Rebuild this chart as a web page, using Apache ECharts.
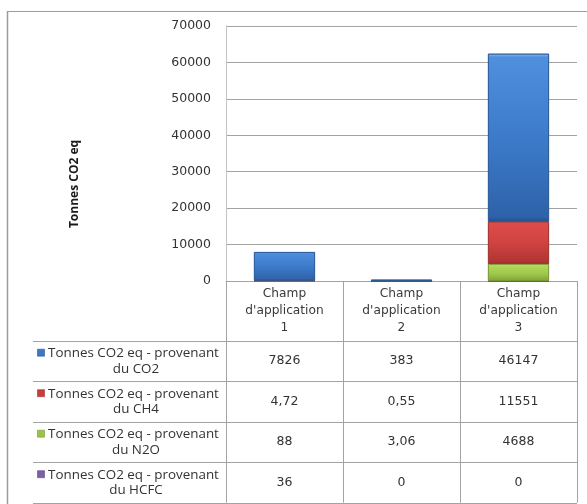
<!DOCTYPE html>
<html>
<head>
<meta charset="utf-8">
<style>
  html, body { margin: 0; padding: 0; background: #fff; }
  #chart { width: 587px; height: 504px; }
</style>
<script src="https://cdn.jsdelivr.net/npm/echarts@6/dist/echarts.min.js"></script>
</head>
<body>
<div id="chart"></div>
<script>
// Emissions par champ d'application (tonnes CO2 eq)
const categories = ["Champ\nd'application\n1", "Champ\nd'application\n2", "Champ\nd'application\n3"];
const seriesNames = [
  "Tonnes CO2 eq - provenant\ndu CO2",
  "Tonnes CO2 eq - provenant\ndu CH4",
  "Tonnes CO2 eq - provenant\ndu N2O",
  "Tonnes CO2 eq - provenant\ndu HCFC"
];
const co2 = [7826, 383, 46147];
const ch4 = [4.72, 0.55, 11551];
const n2o = [88, 3.06, 4688];
const hcfc = [36, 0, 0];
const yTicks = [0, 10000, 20000, 30000, 40000, 50000, 60000, 70000];
const axisTitle = "Tonnes CO2 eq";

const tableRows = [co2, ch4, n2o, hcfc];

function grad(stops) {
  return new echarts.graphic.LinearGradient(0, 0, 0, 1,
    stops.map(s => ({ offset: s[0], color: s[1] })));
}
const palette = [
  { fill: grad([[0, '#8dbcf0'], [0.02, '#4f8fdd'], [0.5, '#3d7bca'], [0.97, '#2e62a9'], [1, '#234f8a']]), border: '#2a5a98', icon: '#3b78c6' },
  { fill: grad([[0, '#f48a88'], [0.04, '#de4c49'], [0.5, '#cf4341'], [0.95, '#b13533'], [1, '#8f2927']]), border: '#a23330', icon: '#c83c3a' },
  { fill: grad([[0, '#e2f5a8'], [0.1, '#b2d95c'], [0.6, '#9dc64a'], [0.93, '#86a93a'], [1, '#6a872c']]), border: '#7a9a36', icon: '#9bc34a' },
  { fill: grad([[0, '#a890cc'], [0.1, '#8467ab'], [1, '#5f4783']]), border: '#5e4783', icon: '#7c5fa6' }
];

const fmt = v => String(v).replace('.', ',');

const grid = { left: 226, top: 26, width: 351, bottom: 223 };
const lineGray = '#a3a3a3';
const numFont = 'DejaVu Sans';
const labelFont = 'Open Sans';

const chart = echarts.init(document.getElementById('chart'), null, { renderer: 'canvas' });

// stacking from the bottom: HCFC, N2O, CH4, CO2
const stackOrder = [3, 2, 1, 0];
const series = stackOrder.map(i => ({
  name: seriesNames[i],
  type: 'bar',
  stack: 'total',
  barWidth: 61,
  data: tableRows[i],
  itemStyle: { color: palette[i].fill, borderColor: palette[i].border, borderWidth: 0.8 },
  emphasis: { disabled: true }
}));

chart.setOption({
  animation: false,
  backgroundColor: '#ffffff',
  grid: grid,
  xAxis: {
    type: 'category',
    data: categories,
    axisLine: { show: true, lineStyle: { color: lineGray, width: 1 } },
    axisTick: { show: false },
    axisLabel: {
      fontFamily: numFont, fontSize: 12.2, color: '#3a3a3a',
      lineHeight: 17, margin: 4, interval: 0, align: 'center'
    }
  },
  yAxis: {
    type: 'value',
    min: yTicks[0],
    max: yTicks[yTicks.length - 1],
    interval: yTicks[1] - yTicks[0],
    axisLine: { show: true, lineStyle: { color: '#c4c4c4' } },
    axisTick: { show: false },
    splitLine: { lineStyle: { color: lineGray, width: 1 } },
    axisLabel: {
      fontFamily: numFont, fontSize: 12.5, color: '#333', margin: 15,
      formatter: v => String(v)
    }
  },
  series: series
});

// data table under the plot, positioned from the axis scale
const x0 = chart.convertToPixel({ xAxisIndex: 0 }, 0);
const x1 = chart.convertToPixel({ xAxisIndex: 0 }, 1);
const colW = x1 - x0;
const yZero = chart.convertToPixel({ yAxisIndex: 0 }, 0);
const plotLeft = grid.left;
const plotRight = grid.left + grid.width;
const tableLeft = 33;
const headerBottom = 340.7;
const rowH = 40.5;
const tableBottom = headerBottom + rowH * tableRows.length;

const g = [];
const line = (xa, ya, xb, yb, color, w) => g.push({
  type: 'line', silent: true,
  shape: { x1: xa, y1: ya, x2: xb, y2: yb },
  style: { stroke: color || lineGray, lineWidth: w || 1 }
});

// chart frame
line(7, 11.5, 600, 11.5, '#9c9c9c', 1.2);
line(7.5, 11, 7.5, 520, '#9c9c9c', 1.5);

// vertical dividers of the table
for (let k = 0; k <= categories.length; k++) {
  const x = Math.round(plotLeft + k * colW) + 0.5;
  line(x, yZero, x, tableBottom, lineGray);
}
// horizontal row lines
for (let r = 0; r <= tableRows.length; r++) {
  const y = Math.round(headerBottom + r * rowH) + 0.5;
  line(tableLeft, y, plotRight, y, lineGray);
}

const txt = (text, x, y, family, size, extra) => g.push({
  type: 'text', silent: true,
  style: Object.assign({
    text: text, x: x, y: y, align: 'center', verticalAlign: 'middle',
    fontFamily: family, fontSize: size, fill: '#333'
  }, extra || {})
});

tableRows.forEach((vals, r) => {
  const top = headerBottom + r * rowH;
  const [l1, l2] = seriesNames[r].split('\n');
  // legend key
  g.push({
    type: 'rect', silent: true,
    shape: { x: 37.5, y: top + 8.5, width: 7, height: 7 },
    style: { fill: palette[r].icon, stroke: palette[r].border, lineWidth: 0.6 }
  });
  txt(l1, 133.5, top + 12.5, labelFont, 13.4);
  txt(l2, 136, top + 28, labelFont, 13.4);
  vals.forEach((v, c) => txt(fmt(v), x0 + c * colW, top + 20.5, numFont, 12.5));
});

// vertical axis title
g.push({
  type: 'text', silent: true,
  x: 75, y: 184, rotation: Math.PI / 2,
  style: {
    text: axisTitle, x: 0, y: 0, align: 'center', verticalAlign: 'middle',
    fontFamily: labelFont, fontSize: 12, fontWeight: 'bold', fill: '#1a1a1a'
  }
});

chart.setOption({ graphic: { elements: g } });
</script>
</body>
</html>
